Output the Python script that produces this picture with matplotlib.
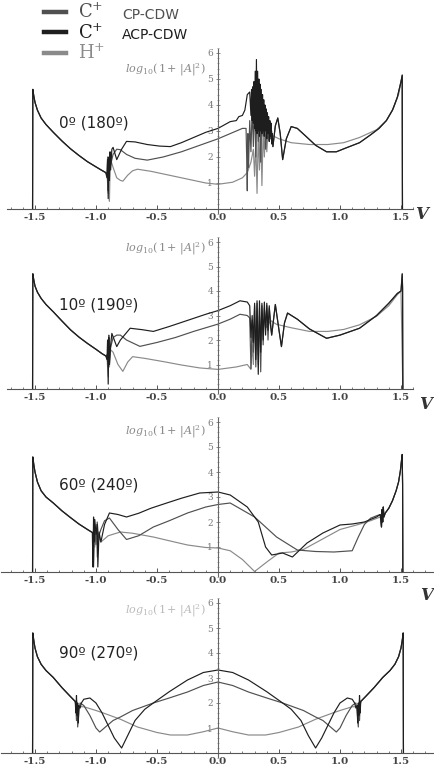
import numpy as np
import matplotlib
matplotlib.use('Agg')
import matplotlib.pyplot as plt
from matplotlib.lines import Line2D
from matplotlib.ticker import MultipleLocator, FixedLocator

plt.rcParams['axes.unicode_minus'] = False
plt.rcParams['mathtext.fontset'] = 'dejavuserif'

# ---- data: (V, log10(1+|A|^2)) ----
series_names = ['CP-CDW', 'ACP-CDW', 'H+']
panel_titles = ['0º (180º)', '10º (190º)', '60º (240º)', '90º (270º)']
xtick_vals = [-1.5, -1.0, -0.5, 0.0, 0.5, 1.0, 1.5]
xtick_labels = ['-1.5', '-1.0', '-0.5', '0.0', '0.5', '1.0', '1.5']
ytick_vals = [1, 2, 3, 4, 5, 6]

# panel 1, 0 deg
p1_left = [(-1.52, 0.0), (-1.518, 4.6), (-1.51, 4.35), (-1.50, 4.1), (-1.48, 3.8), (-1.45, 3.5),
           (-1.41, 3.25), (-1.35, 2.95), (-1.28, 2.62), (-1.21, 2.32), (-1.14, 2.06), (-1.07, 1.82),
           (-1.0, 1.62), (-0.95, 1.48), (-0.92, 1.4)]
p1_acp = [(-0.91, 1.2), (-0.905, 1.9), (-0.90, 0.4), (-0.895, 2.0), (-0.89, 1.1), (-0.885, 2.2),
          (-0.88, 1.5), (-0.87, 2.3), (-0.86, 2.37), (-0.83, 1.9), (-0.79, 2.3), (-0.75, 2.6),
          (-0.68, 2.58), (-0.58, 2.48), (-0.48, 2.42), (-0.39, 2.4), (-0.3, 2.55), (-0.2, 2.75),
          (-0.1, 2.95), (0.0, 3.1), (0.1, 3.36), (0.15, 3.4), (0.17, 3.55), (0.2, 3.6), (0.22, 3.8),
          (0.24, 4.4), (0.26, 4.5),
          (0.270, 3.6), (0.275, 4.6), (0.280, 3.4), (0.285, 4.7), (0.290, 3.3), (0.295, 4.9),
          (0.300, 3.1), (0.305, 5.3), (0.310, 3.0), (0.315, 5.75), (0.320, 2.9), (0.325, 5.3),
          (0.330, 3.0), (0.335, 5.0), (0.340, 2.8), (0.345, 4.8), (0.350, 3.0), (0.355, 4.6),
          (0.360, 2.9), (0.365, 4.4), (0.370, 3.0), (0.375, 4.2), (0.380, 2.8), (0.385, 4.0),
          (0.390, 3.0), (0.395, 3.85), (0.400, 2.7), (0.405, 3.7), (0.410, 2.9), (0.415, 3.55),
          (0.420, 2.6), (0.425, 3.4), (0.430, 2.8), (0.435, 3.3), (0.440, 2.5), (0.445, 2.9),
          (0.450, 2.4)]
p1_cp = [(-0.91, 1.3), (-0.905, 2.0), (-0.90, 0.7), (-0.895, 1.8), (-0.89, 1.5), (-0.88, 1.7),
         (-0.86, 2.1), (-0.83, 2.3), (-0.8, 2.28), (-0.75, 2.1), (-0.68, 1.95), (-0.58, 1.88),
         (-0.45, 2.0), (-0.3, 2.2), (-0.15, 2.45), (0.0, 2.7), (0.1, 2.9), (0.2, 3.1), (0.23, 3.1),
         (0.235, 2.0), (0.24, 0.7), (0.245, 2.9), (0.25, 1.6), (0.26, 3.4), (0.27, 2.2), (0.28, 3.9),
         (0.29, 2.4), (0.30, 4.2), (0.31, 2.0), (0.32, 4.0), (0.33, 2.6), (0.34, 3.9), (0.35, 1.8),
         (0.36, 3.6), (0.37, 2.8), (0.38, 3.5), (0.39, 2.3), (0.40, 3.3), (0.41, 2.9), (0.42, 3.2),
         (0.43, 2.7), (0.44, 3.0), (0.45, 2.4)]
p1_h = [(-0.91, 1.4), (-0.90, 0.6), (-0.895, 1.6), (-0.89, 0.3), (-0.885, 1.5), (-0.88, 1.9),
        (-0.86, 1.6), (-0.83, 1.2), (-0.8, 1.1), (-0.78, 1.07), (-0.74, 1.3), (-0.7, 1.47),
        (-0.66, 1.53), (-0.55, 1.45), (-0.4, 1.3), (-0.25, 1.15), (-0.1, 1.0), (0.0, 0.95),
        (0.12, 1.03), (0.2, 1.2), (0.24, 1.4), (0.27, 1.8), (0.29, 2.3), (0.30, 1.26), (0.31, 2.6),
        (0.32, 0.6), (0.33, 2.9), (0.34, 1.5), (0.35, 3.3), (0.36, 0.9), (0.37, 3.0), (0.38, 2.0),
        (0.39, 3.2), (0.40, 2.2), (0.41, 3.0), (0.42, 2.6), (0.43, 2.86)]
p1_bump = [(0.47, 3.2), (0.49, 3.5), (0.51, 2.9), (0.53, 1.9), (0.56, 2.7), (0.6, 3.17), (0.65, 3.1),
           (0.72, 2.8), (0.8, 2.45), (0.89, 2.2), (0.97, 2.2), (1.05, 2.35), (1.16, 2.55), (1.25, 2.85),
           (1.32, 3.1), (1.38, 3.4), (1.43, 3.8), (1.47, 4.3), (1.5, 4.9), (1.51, 5.15), (1.512, 0.0)]
p1_flat = [(0.5, 2.7), (0.6, 2.55), (0.75, 2.48), (0.9, 2.48), (1.03, 2.55), (1.16, 2.75), (1.3, 3.05),
           (1.38, 3.4), (1.44, 3.9), (1.48, 4.4), (1.51, 5.1)]

# panel 2, 10 deg
p2_left = [(-1.52, 0.0), (-1.518, 4.7), (-1.51, 4.45), (-1.50, 4.2), (-1.48, 3.95), (-1.45, 3.7),
           (-1.41, 3.45), (-1.35, 3.15), (-1.28, 2.78), (-1.21, 2.42), (-1.14, 2.12), (-1.07, 1.86),
           (-1.0, 1.62), (-0.95, 1.44), (-0.92, 1.35)]
p2_acp = [(-0.91, 1.2), (-0.905, 2.0), (-0.90, 0.2), (-0.895, 2.1), (-0.89, 1.0), (-0.88, 1.8),
          (-0.87, 2.27), (-0.85, 2.0), (-0.83, 1.73), (-0.8, 2.0), (-0.72, 2.48), (-0.62, 2.42),
          (-0.53, 2.35), (-0.4, 2.55), (-0.25, 2.8), (-0.1, 3.05), (0.0, 3.2), (0.1, 3.4), (0.18, 3.6),
          (0.24, 3.55), (0.26, 3.4), (0.27, 2.1), (0.28, 3.0), (0.29, 1.9), (0.30, 3.5), (0.31, 1.2),
          (0.32, 3.6), (0.33, 0.6), (0.34, 3.6), (0.35, 1.5), (0.36, 3.5), (0.37, 2.0), (0.38, 3.55),
          (0.39, 2.2), (0.40, 3.5), (0.41, 2.4), (0.42, 3.4), (0.43, 2.6), (0.44, 2.2)]
p2_cp = [(-0.91, 1.4), (-0.90, 0.9), (-0.895, 2.2), (-0.89, 1.2), (-0.88, 1.7), (-0.86, 2.1),
         (-0.83, 2.2), (-0.8, 2.2), (-0.75, 2.0), (-0.64, 1.74), (-0.5, 1.9), (-0.35, 2.1), (-0.2, 2.35),
         (0.0, 2.65), (0.1, 2.85), (0.18, 3.05), (0.24, 3.0), (0.26, 2.9), (0.27, 0.83), (0.28, 2.8),
         (0.29, 1.5), (0.30, 3.4), (0.31, 0.9), (0.32, 3.5), (0.33, 1.4), (0.34, 3.3), (0.35, 0.7),
         (0.36, 3.4), (0.37, 1.8), (0.38, 3.3), (0.39, 2.5), (0.40, 3.4), (0.41, 2.0), (0.42, 3.3),
         (0.43, 2.8), (0.44, 2.2)]
p2_h = [(-0.91, 1.3), (-0.90, 0.5), (-0.895, 1.8), (-0.89, 0.9), (-0.88, 1.6), (-0.86, 1.5),
        (-0.82, 1.0), (-0.78, 0.72), (-0.74, 1.1), (-0.7, 1.32), (-0.6, 1.25), (-0.45, 1.12),
        (-0.3, 0.98), (-0.15, 0.86), (0.0, 0.8), (0.15, 0.9), (0.24, 1.0), (0.27, 0.8), (0.28, 1.8),
        (0.29, 1.0), (0.30, 2.9), (0.31, 1.6), (0.32, 3.2), (0.33, 1.0), (0.34, 3.0), (0.35, 2.0),
        (0.36, 3.1), (0.37, 2.4), (0.38, 2.9), (0.40, 2.5), (0.43, 2.8), (0.46, 2.7)]
p2_bump = [(0.47, 3.45), (0.5, 2.4), (0.52, 1.73), (0.545, 2.7), (0.57, 3.1), (0.65, 2.85),
           (0.75, 2.45), (0.89, 2.07), (1.0, 2.2), (1.16, 2.48), (1.3, 3.0), (1.4, 3.5), (1.47, 3.9),
           (1.5, 4.0), (1.51, 4.7), (1.513, 4.1), (1.515, 0.0)]
p2_flat = [(0.48, 2.64), (0.6, 2.5), (0.75, 2.35), (0.9, 2.35), (1.03, 2.43), (1.16, 2.62),
           (1.3, 2.97), (1.4, 3.4), (1.47, 3.85), (1.5, 4.0)]

# panel 3, 60 deg
p3_left = [(-1.52, 0.0), (-1.518, 4.6), (-1.51, 4.3), (-1.50, 4.0), (-1.48, 3.6), (-1.45, 3.25),
           (-1.41, 3.0), (-1.35, 2.76), (-1.28, 2.45), (-1.21, 2.18), (-1.14, 1.92), (-1.07, 1.7),
           (-1.03, 1.58)]
p3_acp = [(-1.025, 0.2), (-1.02, 2.2), (-1.015, 1.2), (-1.01, 2.1), (-1.0, 1.5), (-0.99, 1.9),
          (-0.985, 0.2), (-0.975, 1.6), (-0.96, 1.2), (-0.93, 1.9), (-0.89, 2.36), (-0.82, 2.3),
          (-0.75, 2.2), (-0.65, 2.35), (-0.55, 2.55), (-0.42, 2.76), (-0.3, 2.95), (-0.15, 3.16),
          (0.0, 3.2), (0.1, 3.08), (0.24, 2.6), (0.33, 2.0), (0.39, 1.0), (0.44, 0.68), (0.53, 0.76),
          (0.61, 0.6), (0.73, 1.16), (0.86, 1.56), (1.0, 1.88), (1.1, 1.92), (1.2, 2.0), (1.3, 2.2),
          (1.33, 2.3)]
p3_cp = [(-1.025, 1.5), (-1.02, 0.2), (-1.01, 1.8), (-1.0, 1.1), (-0.99, 2.0), (-0.98, 1.4),
         (-0.96, 1.7), (-0.93, 2.05), (-0.89, 2.16), (-0.82, 1.7), (-0.75, 1.3), (-0.65, 1.45),
         (-0.53, 1.8), (-0.4, 2.05), (-0.25, 2.36), (-0.1, 2.6), (0.0, 2.7), (0.1, 2.76), (0.3, 2.2),
         (0.48, 1.4), (0.65, 0.88), (0.8, 0.82), (0.95, 0.8), (1.1, 0.85), (1.15, 1.4), (1.2, 1.9),
         (1.25, 2.15), (1.3, 2.25), (1.33, 2.3)]
p3_h = [(-1.02, 1.6), (-1.01, 1.0), (-1.0, 1.9), (-0.99, 0.6), (-0.98, 1.4), (-0.96, 1.2),
        (-0.9, 1.45), (-0.8, 1.6), (-0.7, 1.55), (-0.53, 1.4), (-0.4, 1.25), (-0.25, 1.08),
        (-0.1, 0.98), (0.0, 0.96), (0.1, 0.85), (0.2, 0.5), (0.3, 0.02), (0.4, 0.4), (0.5, 0.76),
        (0.6, 0.8), (0.7, 0.9), (0.85, 1.3), (1.0, 1.7), (1.15, 1.9), (1.25, 2.05), (1.33, 2.2)]
p3_right = [(1.34, 1.8), (1.345, 2.5), (1.35, 2.0), (1.355, 2.6), (1.36, 2.2), (1.37, 2.35),
            (1.4, 2.55), (1.43, 2.85), (1.46, 3.25), (1.48, 3.6), (1.495, 4.05), (1.505, 4.5),
            (1.51, 4.7), (1.513, 3.5), (1.515, 0.0)]

# panel 4, 90 deg
p4_left = [(-1.52, 0.0), (-1.518, 4.8), (-1.51, 4.5), (-1.50, 4.2), (-1.48, 3.85), (-1.45, 3.55),
           (-1.41, 3.3), (-1.35, 3.02), (-1.28, 2.62), (-1.21, 2.26), (-1.17, 2.06)]
p4_acp = [(-1.165, 1.6), (-1.16, 2.3), (-1.155, 1.5), (-1.15, 2.0), (-1.145, 1.2), (-1.14, 1.9),
          (-1.13, 1.8), (-1.12, 2.0), (-1.1, 2.15), (-1.05, 2.2), (-1.0, 2.0), (-0.95, 1.6),
          (-0.9, 1.1), (-0.85, 0.6), (-0.79, 0.2), (-0.74, 0.7), (-0.68, 1.3), (-0.6, 1.75),
          (-0.53, 2.0), (-0.4, 2.45), (-0.25, 2.92), (-0.12, 3.22), (0.0, 3.32), (0.12, 3.22),
          (0.25, 2.92), (0.4, 2.45), (0.53, 2.0), (0.6, 1.75), (0.68, 1.3), (0.74, 0.7), (0.8, 0.2),
          (0.85, 0.6), (0.9, 1.1), (0.95, 1.6), (1.0, 2.0), (1.06, 2.2), (1.1, 2.15), (1.12, 2.0),
          (1.13, 1.8), (1.14, 1.9), (1.145, 1.2), (1.15, 2.0), (1.155, 1.5), (1.16, 2.3), (1.165, 1.6)]
p4_cp = [(-1.165, 1.9), (-1.16, 1.3), (-1.155, 1.9), (-1.15, 1.04), (-1.14, 1.7), (-1.13, 2.0),
         (-1.1, 1.9), (-1.05, 1.5), (-1.0, 1.0), (-0.97, 0.84), (-0.92, 1.05), (-0.86, 1.3),
         (-0.8, 1.44), (-0.7, 1.7), (-0.53, 2.0), (-0.4, 2.2), (-0.25, 2.44), (-0.12, 2.7), (0.0, 2.84),
         (0.12, 2.7), (0.25, 2.44), (0.4, 2.2), (0.53, 2.0), (0.7, 1.7), (0.8, 1.44), (0.86, 1.3),
         (0.92, 1.05), (0.97, 0.84), (1.0, 1.0), (1.05, 1.5), (1.1, 1.9), (1.13, 2.0), (1.14, 1.7),
         (1.15, 1.04), (1.155, 1.9), (1.16, 1.3), (1.165, 1.9)]
p4_h = [(-1.165, 1.9), (-1.16, 2.1), (-1.15, 1.7), (-1.14, 1.85), (-1.1, 1.85), (-1.0, 1.7),
        (-0.94, 1.6), (-0.8, 1.35), (-0.66, 1.04), (-0.5, 0.82), (-0.39, 0.72), (-0.25, 0.72),
        (-0.12, 0.85), (0.0, 1.0), (0.12, 0.85), (0.25, 0.72), (0.39, 0.72), (0.5, 0.82), (0.66, 1.04),
        (0.8, 1.35), (0.94, 1.6), (1.0, 1.7), (1.1, 1.85), (1.14, 1.85), (1.15, 1.7), (1.16, 2.1),
        (1.165, 1.9)]
p4_right = [(1.17, 2.06), (1.21, 2.26), (1.28, 2.62), (1.35, 3.02), (1.41, 3.3), (1.45, 3.55),
            (1.48, 3.85), (1.50, 4.2), (1.51, 4.5), (1.518, 4.8), (1.52, 0.0)]

# curves per panel, order: CP, ACP, H+
panels = [
    [p1_left + p1_cp + p1_bump, p1_left + p1_acp + p1_bump, p1_left + p1_h + p1_flat + p1_bump[-1:]],
    [p2_left + p2_cp + p2_bump, p2_left + p2_acp + p2_bump, p2_left + p2_h + p2_flat + p2_bump[-1:]],
    [p3_left + p3_cp + p3_right, p3_left + p3_acp + p3_right, p3_left + p3_h + p3_right],
    [p4_left + p4_cp + p4_right, p4_left + p4_acp + p4_right, p4_left + p4_h + p4_right],
]

colors = ['#505050', '#1e1e1e', '#8a8a8a']
lw = 0.85

# ---- layout (pixels of the 434x776 picture) ----
W, H = 434, 776
x0_px, sx = 218, 122.0
geom = [  # (pixel of y=0, px per y unit, xlim, ylabel y, title y, V label pos)
    (209, 26.0, (-1.73, 1.6), 5.35, 3.3, (1.67, -0.23)),
    (389, 24.5, (-1.73, 1.6), 5.75, 3.43, (1.70, -0.65)),
    (572, 25.0, (-1.78, 1.77), 5.6, 3.48, (1.71, -0.92)),
    (753, 25.0, (-1.78, 1.77), 5.7, 4.0, None),
]
ylim = (-0.5, 6.3)

fig = plt.figure(figsize=(W / 100, H / 100), dpi=100)

for i, (y0, sy, xlim, ylab_y, title_y, vpos) in enumerate(geom):
    left = (x0_px + xlim[0] * sx) / W
    width = (xlim[1] - xlim[0]) * sx / W
    bottom = 1 - (y0 - ylim[0] * sy) / H
    height = (ylim[1] - ylim[0]) * sy / H
    ax = fig.add_axes([left, bottom, width, height])
    ax.set_xlim(*xlim)
    ax.set_ylim(*ylim)
    ax.patch.set_alpha(0)

    # draw H+ first, ACP last
    for k in [2, 0, 1]:
        pts = np.array(panels[i][k])
        ax.plot(pts[:, 0], pts[:, 1], color=colors[k], lw=lw)

    for s in ['top', 'right']:
        ax.spines[s].set_visible(False)
    ax.spines['left'].set_position(('data', 0))
    ax.spines['bottom'].set_position(('data', 0))
    ax.spines['left'].set_bounds(-0.15, 6.15)
    ax.spines['left'].set_color('#666666')
    ax.spines['bottom'].set_color('#555555')
    ax.spines['left'].set_linewidth(0.8)
    ax.spines['bottom'].set_linewidth(0.8)

    ax.xaxis.set_major_locator(FixedLocator(xtick_vals))
    ax.set_xticklabels(xtick_labels)
    ax.xaxis.set_minor_locator(MultipleLocator(0.1))
    ax.yaxis.set_major_locator(FixedLocator(ytick_vals))
    ax.yaxis.set_minor_locator(MultipleLocator(0.2))
    ax.tick_params(axis='x', which='major', direction='in', length=3, width=0.7,
                   color='#555555', labelsize=7.5, labelcolor='#444444', pad=3)
    ax.tick_params(axis='x', which='minor', direction='in', length=1.8, width=0.6, color='#666666')
    ax.tick_params(axis='y', which='major', direction='inout', length=3, width=0.6,
                   color='#777777', labelsize=6.5, labelcolor='#777777', pad=2)
    ax.tick_params(axis='y', which='minor', direction='inout', length=1.6, width=0.5, color='#888888')
    for lab in ax.get_xticklabels():
        lab.set_family('DejaVu Serif')
        lab.set_fontweight('bold')
    for lab in ax.get_yticklabels():
        lab.set_family('DejaVu Serif')

    ax.text(-0.1, ylab_y, r'$log_{10}(\,1\!+\,|A|^2)$', ha='right', va='center',
            fontsize=8, color='#8a8a8a' if i < 3 else '#bbbbbb')
    ax.text(-1.3, title_y, panel_titles[i], ha='left', va='center', fontsize=11,
            family='DejaVu Sans', color='#222222')
    if vpos is not None:
        ax.text(vpos[0], vpos[1], 'V', ha='center', va='center', fontsize=12,
                family='DejaVu Serif', style='italic', fontweight='bold', color='#333333')

# legend
handles = [Line2D([], [], color=c, lw=3.2) for c in colors]
fig.legend(handles, ['C$^{+}$', 'C$^{+}$', 'H$^{+}$'], loc='upper left',
           bbox_to_anchor=(44 / W, 1 - 3 / H), frameon=False, borderpad=0, borderaxespad=0,
           handlelength=1.2, handletextpad=0.7, labelspacing=0.05,
           prop={'family': 'DejaVu Serif', 'size': 13}, labelcolor=colors)
fig.text(122 / W, 1 - 15 / H, series_names[0], ha='left', va='center', fontsize=10,
         family='DejaVu Sans', color=colors[0])
fig.text(122 / W, 1 - 35 / H, series_names[1], ha='left', va='center', fontsize=10,
         family='DejaVu Sans', color=colors[1])

fig.savefig('out.png', dpi=100)
